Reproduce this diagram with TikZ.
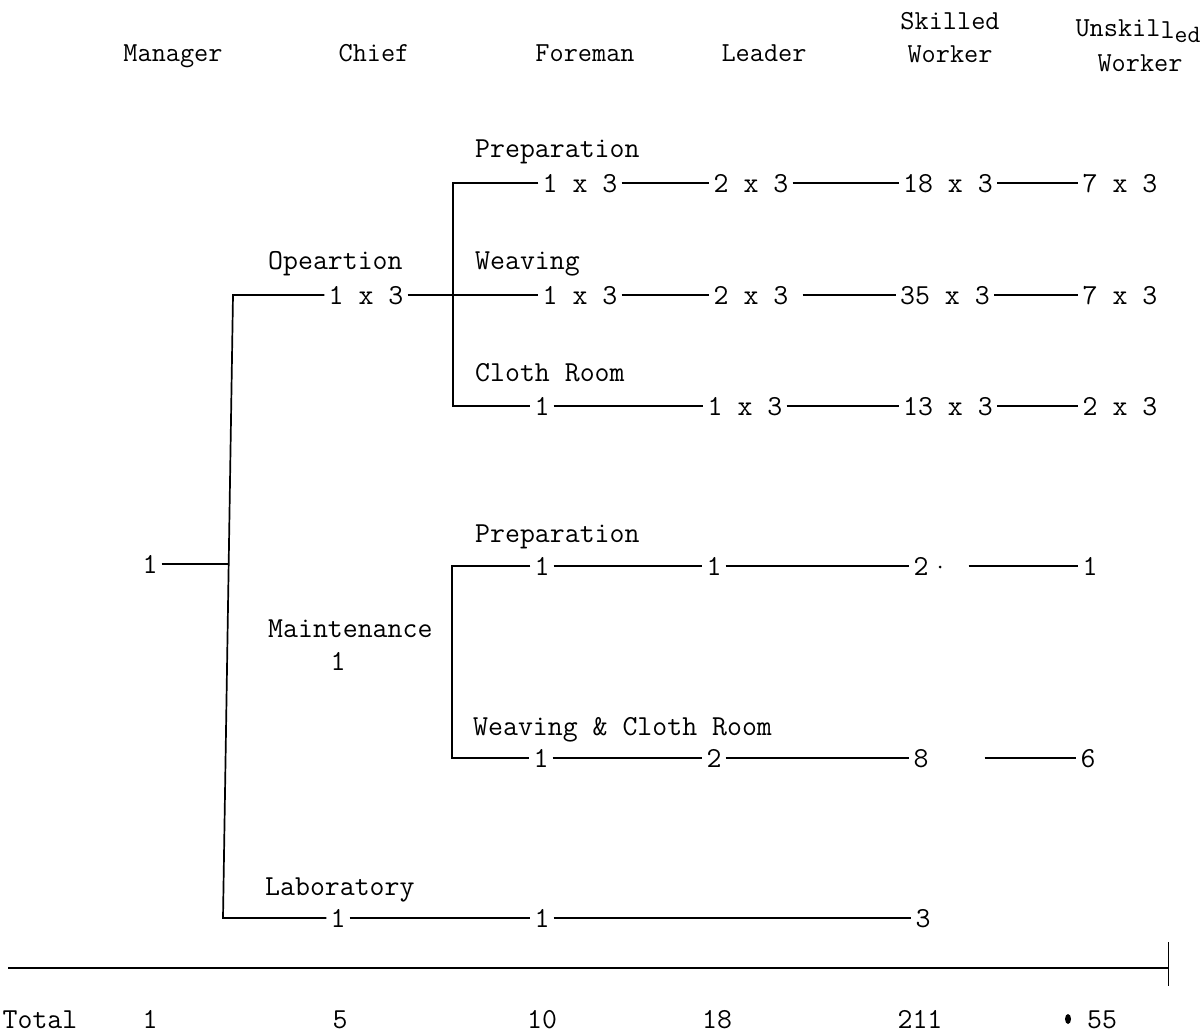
\documentclass[tikz,border=0pt]{standalone}
\usepackage{fontspec}
\usetikzlibrary{shapes.geometric}
\begin{document}
\begin{tikzpicture}[x=1pt,y=-1pt,
  txt/.style={font=\ttfamily\fontsize{29}{34}\selectfont, inner sep=0pt, anchor=base},
  head/.style={font=\ttfamily\fontsize{27.5}{32}\selectfont, inner sep=0pt, anchor=base},
  num/.style={txt, text height=18pt, text depth=0pt, inner xsep=4pt},
  lbl/.style={txt, anchor=base west},
  link/.style={line width=1.7pt},
  thin link/.style={line width=0.8pt}]
\useasboundingbox (0,0) rectangle (1204,1034);
% headers
\node[head] (hman) at (173,61) {Manager};
\node[head] (hchief) at (374,61) {Chief};
\node[head] (hfore) at (585,61) {Foreman};
\node[head] (hlead) at (764,61) {Leader};
\node[head] (hsk1) at (950,29) {Skilled};
\node[head] (hsk2) at (950,62) {Worker};
\node[head] (hun1) at (1138,36) {Unskil\raisebox{-0.1em}{l}\raisebox{-0.25em}{\fontsize{25}{28}\selectfont ed}};
\node[head] (hun2) at (1140,71) {Worker};
% labels
\node[lbl] (lprep) at (475,157) {Preparation};
\node[lbl] (lop) at (268,269) {Opeartion};
\node[lbl] (lweave) at (475,269) {Weaving};
\node[lbl] (lcloth) at (475,381) {Cloth Room};
\node[lbl] (lmprep) at (475,542) {Preparation};
\node[lbl] (lmaint) at (268,637) {Maintenance};
\node[txt] (cm) at (338,670) {1};
\node[lbl] (lmweave) at (473,735) {Weaving \& Cloth Room};
\node[lbl] (llab) at (265,895) {Laboratory};
% manager
\node[num] (mgr) at (150,573) {1};
% operation rows
\node[num] (cop) at (366,304) {1 x 3};
\node[num] (fp) at (580,192) {1 x 3};
\node[num] (lp) at (751,192) {2 x 3};
\node[num] (sp) at (948,192) {18 x 3};
\node[num] (up) at (1120,192) {7 x 3};
\node[num] (fw) at (580,304) {1 x 3};
\node[num] (lw) at (751,304) {2 x 3};
\node[num] (sw) at (945,304) {35 x 3};
\node[num] (uw) at (1120,304) {7 x 3};
\node[num] (fc) at (542,415) {1};
\node[num] (lc) at (745,415) {1 x 3};
\node[num] (sc) at (948,415) {13 x 3};
\node[num] (uc) at (1120,415) {2 x 3};
% maintenance rows
\node[num] (fmp) at (542,575) {1};
\node[num] (lmp) at (714,575) {1};
\node[num] (smp) at (921,575) {2};
\node[circle, fill, inner sep=0pt, minimum size=3pt] (dotmp) at (940,567) {};
\node[num] (ump) at (1090,575) {1};
\node[num] (fmw) at (541,767) {1};
\node[num] (lmw) at (714,767) {2};
\node[num] (smw) at (921,767) {8};
\node[num] (umw) at (1088,767) {6};
% laboratory row
\node[num] (cl) at (338,927) {1};
\node[num] (fl) at (542,927) {1};
\node[num] (sl) at (923,927) {3};
% totals
\node[txt] (ttot) at (40,1028) {Total};
\node[txt] (t1) at (150,1028) {1};
\node[txt] (t2) at (340,1028) {5};
\node[txt] (t3) at (542,1028) {10};
\node[txt] (t4) at (717,1028) {18};
\node[txt] (t5) at (920,1028) {211};
\node[ellipse, fill, inner sep=0pt, minimum width=6pt, minimum height=10pt] (tdot) at (1068,1019) {};
\node[txt] (t6) at (1102,1028) {55};
% coordinates
\coordinate (mtop) at (233,295);
\coordinate (mj) at (229,564);
\coordinate (mbot) at (223,918);
\coordinate (ob) at (453,295);
\coordinate (mb) at (452,660);
\coordinate (tl) at (8,968);
\coordinate (tr) at (1168,968);
\coordinate (tt) at (1168,942);
\coordinate (tb) at (1168,986);
% connectors
\draw[link] (cop.west) -- (mtop) -- (mbot) -- (cl.west);
\draw[link] (mgr.east) -- (mj);
\draw[link] (cop.east) -- (fw.west);
\draw[link] (fp.west) -| (ob) |- (fc.west);
\draw[link] (fp) -- (lp) -- (sp) -- (up);
\draw[link] (fw) -- (lw);
\draw[link, shorten <=10pt] (lw) -- (sw);
\draw[link] (sw) -- (uw);
\draw[link] (fc) -- (lc) -- (sc) -- (uc);
\draw[link] (fmp.west) -| (mb) |- (fmw.west);
\draw[link] (fmp) -- (lmp) -- (smp);
\draw[link, shorten <=36pt] (smp) -- (ump);
\draw[link] (fmw) -- (lmw) -- (smw);
\draw[link, shorten <=52pt] (smw) -- (umw);
\draw[link] (cl) -- (fl) -- (sl);
\draw[link] (tl) -- (tr);
\draw[thin link] (tt) -- (tb);
\end{tikzpicture}
\end{document}
